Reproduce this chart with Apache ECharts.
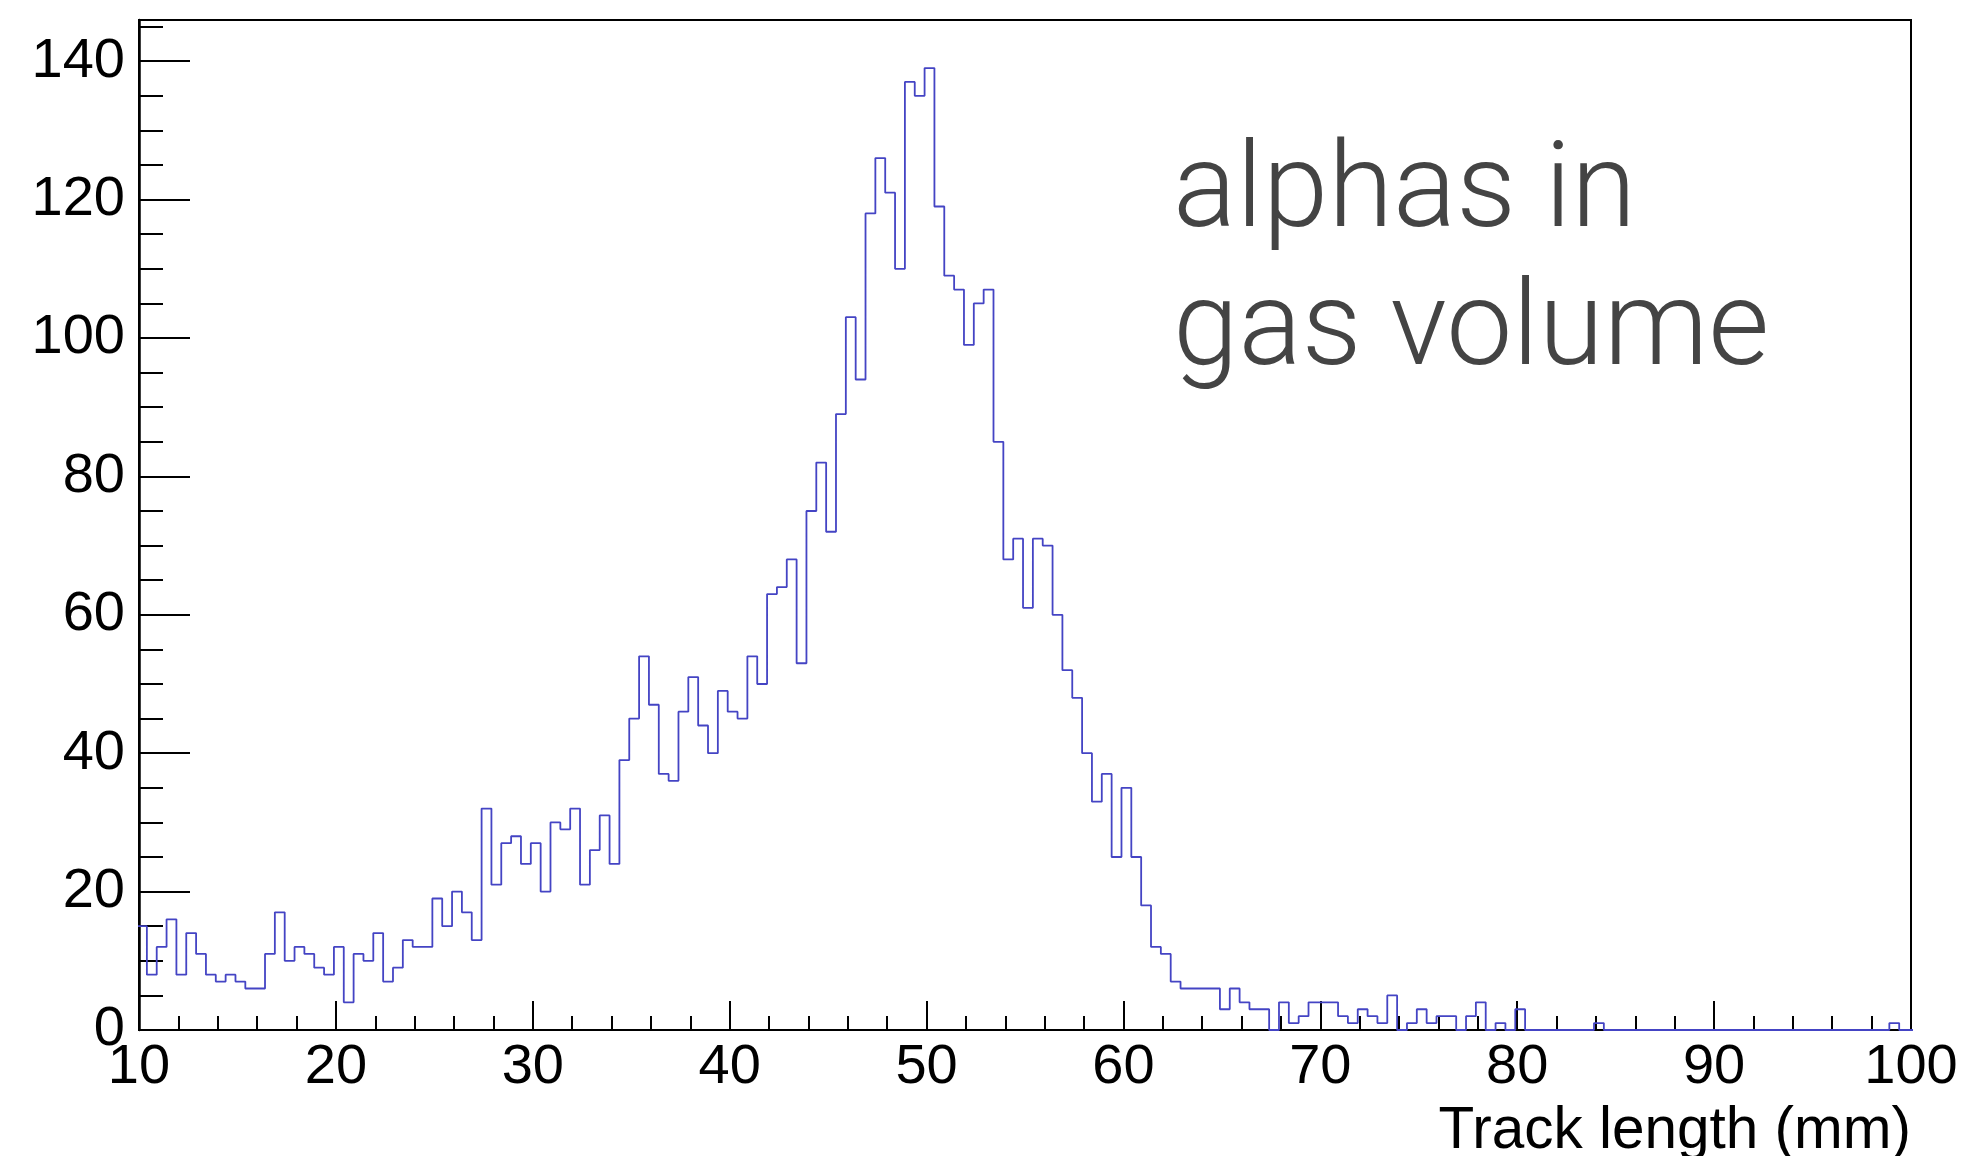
<!DOCTYPE html>
<html>
<head>
<meta charset="utf-8">
<script src="https://cdn.jsdelivr.net/npm/echarts@6/dist/echarts.min.js"></script>
<style>
html,body{margin:0;padding:0;background:#fff;}
#chart{width:1967px;height:1156px;}
</style>
</head>
<body>
<div id="chart"></div>
<script>
// Histogram: 0.5 mm bins, first (partially visible) bin starts at 9.9 mm
const binStart = 9.9;
const binWidth = 0.5;
const counts = [
  15,
  8,12,16,8,14,11,8,7,8,7,
  6,6,11,17,10,12,11,9,8,12,
  4,11,10,14,7,9,13,12,12,19,
  15,20,17,13,32,21,27,28,24,27,
  20,30,29,32,21,26,31,24,39,45,
  54,47,37,36,46,51,44,40,49,46,
  45,54,50,63,64,68,53,75,82,72,
  89,103,94,118,126,121,110,137,135,139,
  119,109,107,99,105,107,85,68,71,61,
  71,70,60,52,48,40,33,37,25,35,
  25,18,12,11,7,6,6,6,6,3,
  6,4,3,3,0,4,1,2,4,4,
  4,2,1,3,2,1,5,0,1,3,
  1,2,2,0,2,4,0,1,0,3,
  0,0,0,0,0,0,0,1,0,0,
  0,0,0,0,0,0,0,0,0,0,
  0,0,0,0,0,0,0,0,0,0,
  0,0,0,0,0,0,0,1,0,0
];
const xTicks = [10,20,30,40,50,60,70,80,90,100];
const yTicks = [0,20,40,60,80,100,120,140];
const xTitle = 'Track length (mm)';
const annotation = ['alphas in', 'gas volume'];

const yMax = Math.max(...counts) * 1.05;

// step outline points (left edge of each bin + final right edge)
const pts = counts.map((c, i) => [binStart + i * binWidth, c]);
pts.push([binStart + counts.length * binWidth, counts[counts.length - 1]]);

const labelFont = "'Liberation Sans', Arial, Helvetica, sans-serif";

const chart = echarts.init(document.getElementById('chart'), null, {renderer: 'canvas'});
chart.setOption({
  animation: false,
  backgroundColor: '#ffffff',
  grid: {
    left: 139, right: 56, top: 20, bottom: 126,
    show: true, borderColor: '#000', borderWidth: 2, backgroundColor: 'transparent'
  },
  xAxis: {
    type: 'value',
    min: xTicks[0], max: xTicks[xTicks.length - 1], interval: 10,
    axisLine: {show: true, onZero: false, lineStyle: {color: '#000', width: 2}},
    axisTick: {show: true, inside: true, length: 29, lineStyle: {color: '#000', width: 2}},
    minorTick: {show: true, splitNumber: 5, length: 14, lineStyle: {color: '#000', width: 2}},
    axisLabel: {show: true, margin: 10, fontSize: 56, fontFamily: labelFont, color: '#000'},
    splitLine: {show: false}
  },
  yAxis: [{
    type: 'value',
    min: 0, max: yMax, interval: 20,
    axisLine: {show: true, lineStyle: {color: '#000', width: 2.5}},
    axisTick: {show: true, inside: true, length: 51, lineStyle: {color: '#000', width: 2}},
    axisLabel: {show: true, margin: 14, fontSize: 56, fontFamily: labelFont, color: '#000', showMaxLabel: false},
    splitLine: {show: false}
  }, {
    type: 'value',
    min: 0, max: yMax, interval: 5, position: 'left', offset: 0,
    axisLine: {show: false},
    axisTick: {show: true, inside: true, length: 24, lineStyle: {color: '#000', width: 2}},
    axisLabel: {show: false},
    splitLine: {show: false}
  }],
  graphic: [{
    type: 'text',
    right: 56,
    top: 1102,
    style: {
      text: xTitle,
      font: "58.5px " + labelFont,
      fill: '#000'
    }
  }, {
    type: 'text',
    left: 1173,
    top: 127,
    style: {
      text: annotation.join('\n'),
      font: "300 118px Roboto, 'Open Sans', sans-serif",
      lineHeight: 138,
      fill: '#444444'
    }
  }],
  series: [{
    type: 'line',
    xAxisIndex: 0,
    yAxisIndex: 0,
    step: 'end',
    data: pts,
    showSymbol: false,
    symbol: 'none',
    clip: true,
    lineStyle: {color: '#4444c4', width: 1.8},
    emphasis: {disabled: true}
  }]
});
</script>
</body>
</html>
